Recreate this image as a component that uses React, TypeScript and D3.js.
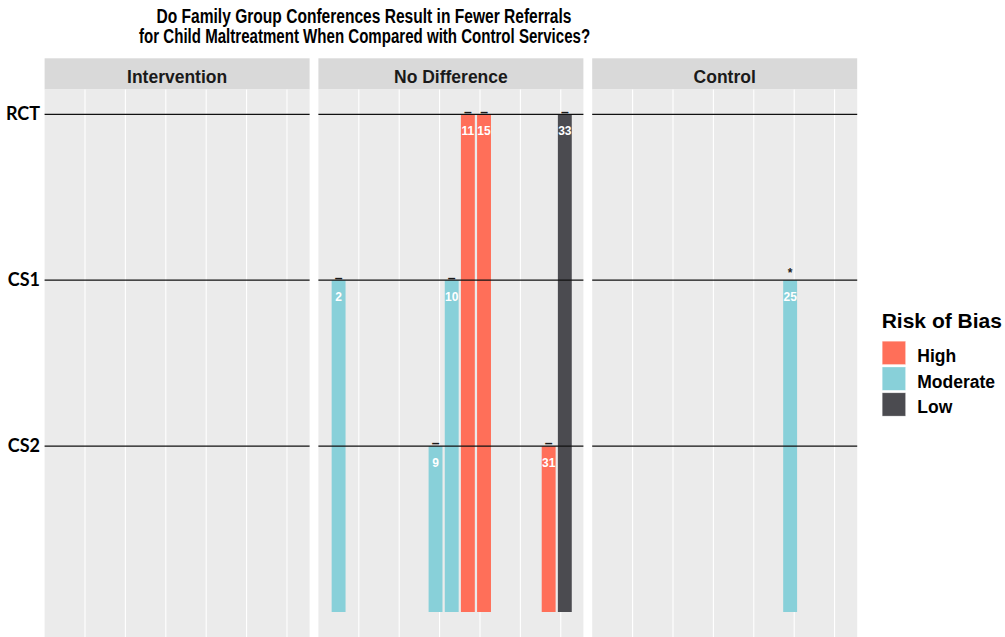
import React from "react";
import * as d3 from "d3";

// Facets, study designs and risk-of-bias levels
const facets = ["Intervention", "No Difference", "Control"];
const designs = ["CS2", "CS1", "RCT"];
const designLevel: Record<string, number> = { CS2: 1, CS1: 2, RCT: 3 };
const biasLevels = ["High", "Moderate", "Low"];
const biasColors = ["#FF6F59", "#88D0D9", "#4B4B50"];

// One entry per study: facet, study order, study id, design, bias, significance mark
const studyFacet = ["No Difference", "No Difference", "No Difference", "No Difference", "No Difference", "No Difference", "No Difference", "Control"];
const studyOrder = [1, 7, 8, 9, 10, 14, 15, 12];
const studyId = ["2", "9", "10", "11", "15", "31", "33", "25"];
const studyDesign = ["CS1", "CS2", "CS1", "RCT", "RCT", "CS2", "RCT", "CS1"];
const studyBias = ["Moderate", "Moderate", "Moderate", "High", "High", "High", "Low", "Moderate"];
const studyMark = ["–", "–", "–", "–", "–", "–", "–", "*"];

const xBreaks = [2.5, 5, 7.5, 10, 12.5, 15];

const W = 1005;
const H = 637;
const panelLeft0 = 44.6;
const panelW = 265;
const panelGap = 8.8;
const stripTop = 58.3;
const stripBottom = 89.5;
const FONT = "'Liberation Sans', Arial, sans-serif";

export default function App() {
  const color = d3.scaleOrdinal<string, string>().domain(biasLevels).range(biasColors);
  const y = d3.scaleLinear().domain([0, 3]).range([612, 114.3]);
  const nudge = 0.25;
  const barW = 0.86;

  const panels = facets.map((f, i) => {
    const left = panelLeft0 + i * (panelW + panelGap);
    const x = d3.scaleLinear().domain([0, 16.4]).range([left, left + panelW]);
    return { f, left, x };
  });

  const rows = studyId.map((id, i) => ({
    id,
    facet: studyFacet[i],
    order: studyOrder[i],
    design: studyDesign[i],
    bias: studyBias[i],
    mark: studyMark[i],
  }));

  return (
    <svg
      width={W}
      height={H}
      style={{ position: "absolute", left: 0, top: 0, background: "#fff" }}
    >
      {/* title */}
      <g fontFamily={FONT} fontWeight="bold" fill="#000" textAnchor="middle">
        <text x={364} y={22.5} fontSize={19.5} textLength={415} lengthAdjust="spacingAndGlyphs">
          Do Family Group Conferences Result in Fewer Referrals
        </text>
        <text x={364.6} y={42.8} fontSize={19.5} textLength={451} lengthAdjust="spacingAndGlyphs">
          for Child Maltreatment When Compared with Control Services?
        </text>
      </g>

      {panels.map(({ f, left, x }) => (
        <g key={f}>
          {/* strip */}
          <rect x={left} y={stripTop} width={panelW} height={stripBottom - stripTop} fill="#D9D9D9" />
          <text
            x={left + panelW / 2}
            y={82.7}
            textAnchor="middle"
            fontFamily={FONT}
            fontWeight="bold"
            fontSize={17.5}
            fill="#1A1A1A"
          >
            {f}
          </text>
          {/* panel background */}
          <rect x={left} y={stripBottom} width={panelW} height={H - stripBottom} fill="#EBEBEB" />
          {xBreaks.map((b) => (
            <line key={b} x1={x(b)} x2={x(b)} y1={stripBottom} y2={H} stroke="#fff" strokeWidth={1.1} />
          ))}
          {/* bars */}
          {rows
            .filter((r) => r.facet === f)
            .map((r) => {
              const cx = x(r.order + nudge);
              const bw = x(barW) - x(0);
              const top = y(designLevel[r.design]);
              return (
                <g key={r.id}>
                  <rect x={cx - bw / 2} y={top} width={bw} height={y(0) - top} fill={color(r.bias)} />
                  <text
                    x={cx}
                    y={top + 21}
                    textAnchor="middle"
                    fontFamily={FONT}
                    fontWeight="bold"
                    fontSize={12}
                    fill="#fff"
                  >
                    {r.id}
                  </text>
                  {r.mark === "*" ? (
                    <text x={cx} y={top - 3.5} textAnchor="middle" fontFamily={FONT} fontWeight="bold" fontSize={12} fill="#222">
                      *
                    </text>
                  ) : (
                    <text x={cx} y={top + 2.3} textAnchor="middle" fontFamily={FONT} fontWeight="bold" fontSize={14} fill="#1a1a1a">
                      {r.mark}
                    </text>
                  )}
                </g>
              );
            })}
          {/* design reference lines */}
          {designs.map((d) => (
            <line
              key={d}
              x1={left}
              x2={left + panelW}
              y1={y(designLevel[d])}
              y2={y(designLevel[d])}
              stroke="#111"
              strokeWidth={1.3}
            />
          ))}
        </g>
      ))}

      {/* y axis labels */}
      <g fontFamily="Lato, 'Noto Sans', sans-serif" fontWeight="bold" fontSize={18} fill="#000" textAnchor="end">
        {designs.map((d) => (
          <text key={d} x={40} y={y(designLevel[d]) + 5.8}>
            {d}
          </text>
        ))}
      </g>

      {/* legend */}
      <g fontFamily={FONT} fontWeight="bold" fill="#000">
        <text x={881.7} y={328.3} fontSize={21}>
          Risk of Bias
        </text>
        {biasLevels.map((b, i) => (
          <g key={b}>
            <rect
              x={882.2}
              y={341.2 + i * 25.8}
              width={23.4}
              height={23.3}
              fill={color(b)}
              stroke="#fff"
              strokeOpacity={0.5}
              strokeWidth={0.6}
            />
            <text x={917.3} y={341.2 + i * 25.8 + 20.5} fontSize={17.5}>
              {b}
            </text>
          </g>
        ))}
      </g>
    </svg>
  );
}
